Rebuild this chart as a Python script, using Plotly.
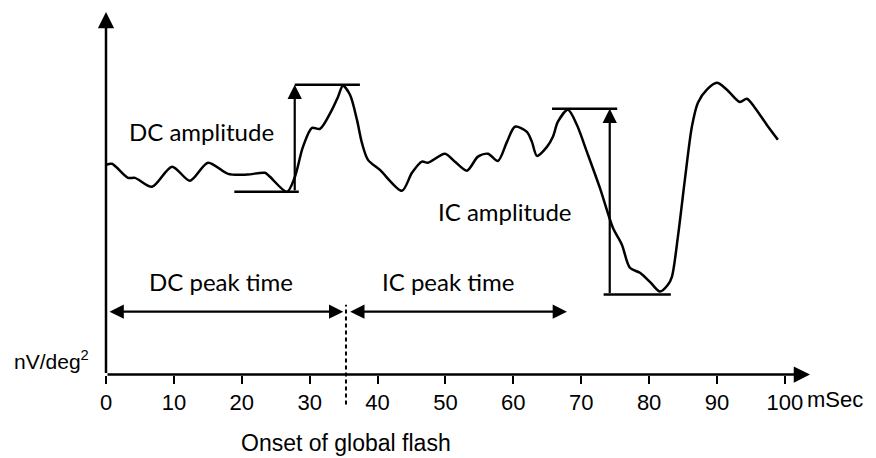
import plotly.graph_objects as go

# ---- data ----
time_ms = [0, 0.88, 3.24, 4.27, 6.77, 9.72, 12.37, 15.02, 17.97, 20.77, 23.42, 24.15,
           26.66, 27.83, 29.01, 30.34, 31.52, 33.28, 34.17, 34.90, 35.94, 36.97, 37.70,
           38.59, 40.35, 43.59, 45.07, 46.54, 47.42, 49.93, 51.40, 53.17, 54.79, 56.26,
           57.73, 59.06, 60.24, 62.00, 62.74, 63.48, 64.95, 65.83, 66.57, 68.04, 69.37,
           70.84, 72.75, 74.67, 75.99, 77.17, 78.65, 80.12, 81.59, 82.77, 83.36, 84.24,
           85.27, 86.30, 87.19, 88.51, 89.99, 91.46, 93.37, 94.40, 95.58, 97.35, 98.97]
response = [58.3, 58.6, 54.7, 54.7, 52.2, 57.8, 53.9, 58.9, 55.8, 55.6, 56.1, 55.0,
            50.8, 55.0, 63.3, 68.6, 68.3, 73.6, 77.2, 80.3, 77.8, 70.8, 64.4,
            59.7, 56.9, 51.1, 56.1, 59.2, 58.9, 61.4, 59.2, 56.7, 60.6, 61.4,
            59.4, 64.7, 68.9, 67.5, 64.7, 60.8, 63.3, 66.1, 70.3, 73.6, 69.4,
            61.9, 51.9, 40.8, 36.1, 29.7, 28.3, 25.8, 23.1, 25.0, 27.2, 38.3,
            54.2, 68.9, 75.6, 79.2, 81.1, 79.2, 75.8, 76.7, 74.2, 69.4, 65.3]

tick_vals = [0, 10, 20, 30, 40, 50, 60, 70, 80, 90, 100]
tick_text = [str(v) for v in tick_vals]

dc_trough = 50.8
dc_peak = 80.6
ic_peak = 73.9
ic_trough = 22.3
onset_ms = 35.35
dc_marker_ms = 27.8
ic_marker_ms = 74.2
ic_peak_ms = 67.9

x_range = [0, 103.7]
y_range = [-9, 100.8]

BLACK = "black"
ARIAL = "Liberation Sans, Arial, sans-serif"
CALIBRI = "Lato, Carlito, Calibri, sans-serif"


def to_paper_x(v):
    return (v - x_range[0]) / (x_range[1] - x_range[0])


def to_paper_y(v):
    return (v - y_range[0]) / (y_range[1] - y_range[0])


fig = go.Figure()
fig.add_trace(go.Scatter(x=time_ms, y=response, mode="lines",
                         line=dict(color=BLACK, width=2.5, shape="spline", smoothing=0.8),
                         hoverinfo="skip", showlegend=False))

# horizontal amplitude reference lines
seg = dict(type="line", xref="x", yref="y", line=dict(color=BLACK, width=2.5))
shapes = [
    dict(seg, x0=18.9, x1=28.4, y0=dc_trough, y1=dc_trough),
    dict(seg, x0=27.8, x1=37.4, y0=dc_peak, y1=dc_peak),
    dict(seg, x0=65.7, x1=75.3, y0=ic_peak, y1=ic_peak),
    dict(seg, x0=73.3, x1=83.2, y0=ic_trough, y1=ic_trough),
    dict(type="line", xref="x", yref="y", x0=onset_ms, x1=onset_ms, y0=-8.3, y1=19.4,
         line=dict(color=BLACK, width=2, dash="4px,3px")),
]


def arrow(x, y, ax, ay, both=False, width=2.2):
    d = dict(x=x, y=y, ax=ax, ay=ay, xref="x", yref="y", axref="x", ayref="y",
             text="", showarrow=True, arrowhead=2, arrowsize=1.3, arrowwidth=width,
             arrowcolor=BLACK, standoff=0, startstandoff=0)
    if both:
        d.update(arrowside="end+start", startarrowhead=2, startarrowsize=1.3)
    return d


annotations = [
    # axes
    arrow(0, y_range[1], 0, 0, width=2.5),
    arrow(x_range[1], 0, 0, 0, width=2.5),
    # amplitude arrows
    arrow(dc_marker_ms, dc_peak, dc_marker_ms, dc_trough),
    arrow(ic_marker_ms, ic_peak, ic_marker_ms, ic_trough),
    # peak time arrows
    arrow(onset_ms - 0.4, 17.5, 0.3, 17.5, both=True),
    arrow(ic_peak_ms, 17.5, onset_ms + 0.4, 17.5, both=True),
]


def label(text, x, y, font, size, xanchor="center", xref="x", yref="y"):
    return dict(text=text, x=x, y=y, xref=xref, yref=yref, showarrow=False,
                xanchor=xanchor, yanchor="middle",
                font=dict(family=font, size=size, color=BLACK))


annotations += [
    label("DC amplitude", 14.1, 67.5, CALIBRI, 24),
    label("IC amplitude", 58.8, 45.3, CALIBRI, 24),
    label("DC peak time", 16.9, 25.8, CALIBRI, 24),
    label("IC peak time", 50.4, 25.8, CALIBRI, 24),
    label("nV/deg<sup>2</sup>", to_paper_x(-8.1), 4.2, ARIAL, 21, xref="paper"),
    label("Onset of global flash", onset_ms, to_paper_y(-18.9), ARIAL, 23, yref="paper"),
    label("mSec", 103.0, -6.9, ARIAL, 22, xanchor="left"),
]

# the page body adds an 8px offset, so the figure is 8px smaller and margins shifted
fig.update_layout(
    width=868, height=450,
    margin=dict(l=98, r=66, t=4, b=51),
    paper_bgcolor="white", plot_bgcolor="white",
    showlegend=False,
    shapes=shapes, annotations=annotations,
    xaxis=dict(range=x_range, showgrid=False, zeroline=False, showline=False,
               tickvals=tick_vals, ticktext=tick_text,
               ticks="outside", ticklen=8, tickwidth=2, tickcolor=BLACK,
               tickfont=dict(family=ARIAL, size=22, color=BLACK),
               anchor="free", position=to_paper_y(0)),
    yaxis=dict(range=y_range, showgrid=False, zeroline=False, showline=False,
               showticklabels=False, ticks=""),
)

fig.write_html("out.html")
